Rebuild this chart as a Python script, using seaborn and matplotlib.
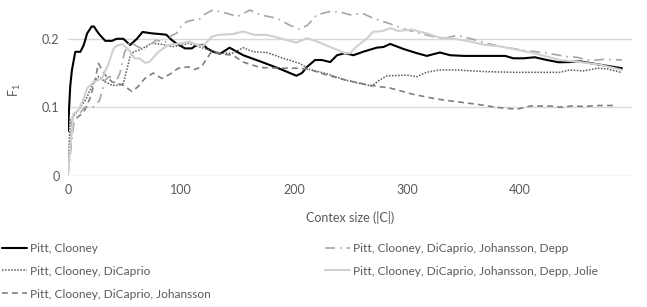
import pandas as pd
import seaborn as sns
import matplotlib.pyplot as plt

# series (context size -> F1)
clooney_x = [0, 2, 3.5, 6.5, 11, 14, 17, 21, 23, 27, 33, 39, 43, 49, 55, 61, 66, 74, 81, 87,
             92, 96, 103.5, 109.5, 114, 120, 123, 128.6, 134.5, 143, 155, 170, 187.6, 202, 207,
             211.5, 218.6, 224.5, 232, 238, 245, 252.5, 261, 273, 279, 285, 297, 308.6, 317.4,
             329, 338, 350, 369, 386.7, 394, 403, 413, 423.6, 434, 444, 453, 471, 490]
clooney_y = [0.065, 0.13, 0.154, 0.181, 0.181, 0.191, 0.208, 0.218, 0.218, 0.208, 0.197, 0.197,
             0.2, 0.2, 0.191, 0.2, 0.21, 0.208, 0.207, 0.206, 0.198, 0.193, 0.186, 0.186, 0.191,
             0.191, 0.186, 0.181, 0.178, 0.187, 0.176, 0.167, 0.156, 0.146, 0.150, 0.159, 0.169,
             0.169, 0.166, 0.176, 0.179, 0.176, 0.181, 0.187, 0.188, 0.1925, 0.185, 0.179, 0.175,
             0.180, 0.176, 0.175, 0.175, 0.175, 0.1715, 0.1715, 0.173, 0.169, 0.1657, 0.166,
             0.167, 0.162, 0.157]

dicaprio_x = [0, 2, 9.4, 16, 23, 27, 33, 39, 45, 49, 52, 55, 58, 64, 74, 83, 92, 99, 106.5, 115,
              124, 134.5, 146, 155, 164, 176, 190.5, 205, 214, 229, 245, 255, 268.6, 276, 282,
              299.5, 308.6, 317, 329, 344, 358.7, 369, 394, 435, 444, 456, 468, 477, 490]
dicaprio_y = [0, 0.081, 0.096, 0.112, 0.137, 0.145, 0.137, 0.132, 0.132, 0.135, 0.154, 0.174,
              0.181, 0.184, 0.1935, 0.192, 0.1886, 0.19, 0.1935, 0.189, 0.184, 0.179, 0.179,
              0.187, 0.181, 0.180, 0.1715, 0.164, 0.155, 0.149, 0.140, 0.136, 0.131, 0.14,
              0.1457, 0.147, 0.1447, 0.151, 0.1545, 0.1545, 0.153, 0.152, 0.151, 0.151, 0.1545,
              0.153, 0.157, 0.156, 0.1505]

johansson_x = [0, 3.5, 11, 15, 20, 24, 27, 30, 33, 39, 49, 56.6, 62, 68, 75.5, 83, 90, 97.6,
               106.5, 112, 118, 123, 127, 134.5, 146, 155, 170, 187.6, 205, 214, 229, 245, 267,
               285, 305, 326, 344, 363, 379, 397, 409, 426.5, 435, 447, 456, 468, 485.5]
johansson_y = [0, 0.079, 0.0886, 0.096, 0.115, 0.14, 0.164, 0.155, 0.147, 0.137, 0.132, 0.123,
               0.13, 0.142, 0.150, 0.142, 0.148, 0.157, 0.159, 0.155, 0.159, 0.1715, 0.181,
               0.178, 0.176, 0.166, 0.158, 0.157, 0.157, 0.155, 0.147, 0.140, 0.132, 0.128,
               0.119, 0.112, 0.108, 0.104, 0.0998, 0.097, 0.1017, 0.1017, 0.1, 0.102, 0.101,
               0.1025, 0.1025]

depp_x = [0, 5, 10, 15, 22, 28, 33, 37, 42, 46, 50, 55, 60, 66, 72, 78, 86, 92, 96, 100, 105,
          112, 116, 120, 128, 140, 150, 161, 170, 185, 196, 205, 212, 220, 232, 241, 250, 261,
          270, 285, 300, 316, 332, 344, 359, 369, 382, 400, 424, 441, 450, 462, 474, 490]
depp_y = [0, 0.075, 0.09, 0.1, 0.1, 0.11, 0.14, 0.145, 0.135, 0.15, 0.18, 0.196, 0.19, 0.185,
          0.19, 0.198, 0.195, 0.205, 0.208, 0.218, 0.225, 0.228, 0.228, 0.235, 0.242, 0.2375,
          0.2325, 0.242, 0.235, 0.23, 0.22, 0.214, 0.22, 0.235, 0.24, 0.239, 0.235, 0.237, 0.23,
          0.222, 0.213, 0.206, 0.2, 0.205, 0.199, 0.194, 0.189, 0.184, 0.179, 0.174, 0.173,
          0.168, 0.170, 0.169]

jolie_x = [0, 4.7, 9.4, 13.5, 17, 23, 30, 36, 40, 42, 48, 53.7, 59, 63.7, 68, 72, 80, 89, 100.6,
           108, 114, 120, 127, 133, 146, 155, 165.5, 176, 187.6, 202, 211.5, 220, 235, 245,
           249.6, 255.5, 264, 270, 277.6, 285, 292.3, 304, 317, 329, 344, 356, 369, 382, 412,
           435, 453, 471, 490]
jolie_y = [0, 0.09, 0.096, 0.1105, 0.128, 0.137, 0.142, 0.164, 0.184, 0.189, 0.1925, 0.184,
           0.1715, 0.171, 0.165, 0.166, 0.181, 0.191, 0.1935, 0.196, 0.191, 0.19, 0.203, 0.2057,
           0.207, 0.2105, 0.2057, 0.2057, 0.2009, 0.1944, 0.2009, 0.1962, 0.186, 0.179, 0.179,
           0.189, 0.2, 0.2105, 0.211, 0.2155, 0.2115, 0.2135, 0.208, 0.2017, 0.1994, 0.196,
           0.191, 0.189, 0.179, 0.169, 0.166, 0.162, 0.1545]

labels = ['Pitt, Clooney',
          'Pitt, Clooney, DiCaprio',
          'Pitt, Clooney, DiCaprio, Johansson',
          'Pitt, Clooney, DiCaprio, Johansson, Depp',
          'Pitt, Clooney, DiCaprio, Johansson, Depp, Jolie']
x_ticks = [0, 100, 200, 300, 400]
y_ticks = [0, 0.1, 0.2]

sns.set_theme(style='white')
plt.rcParams['font.family'] = ['Lato', 'DejaVu Sans']
plt.rcParams['mathtext.default'] = 'regular'

series = [
    (clooney_x, clooney_y, '#000000', 1.5, '-'),
    (dicaprio_x, dicaprio_y, '#595959', 1.1, (0, (1, 1))),
    (johansson_x, johansson_y, '#7f7f7f', 1.2, (0, (3.5, 2.5))),
    (depp_x, depp_y, '#a6a6a6', 1.2, (0, (6, 3, 1, 3))),
    (jolie_x, jolie_y, '#d0d0d0', 1.5, '-'),
]

fig = plt.figure(figsize=(6.47, 3.07), dpi=100)
ax = fig.add_axes([0.105, 0.428, 0.872, 0.557])

for (xs, ys, c, lw, ls), lab in zip(series, labels):
    df = pd.DataFrame({'x': xs, 'y': ys})
    sns.lineplot(data=df, x='x', y='y', ax=ax, color=c, lw=lw, linestyle=ls, label=lab)

if ax.get_legend():
    ax.get_legend().remove()

ax.set_xlim(0, 499)
ax.set_ylim(0, 0.25)
ax.set_xticks(x_ticks)
ax.set_yticks(y_ticks)
ax.set_yticklabels(['0', '0.1', '0.2'])
ax.tick_params(colors='#595959', labelsize=9, length=0, pad=6)
ax.yaxis.grid(True, color='#d9d9d9', lw=1)
ax.set_axisbelow(True)
for s in ax.spines.values():
    s.set_visible(False)

ax.set_xlabel('Contex size (|C|)', fontsize=9, color='#595959', labelpad=11)
ax.set_ylabel('F$_1$', fontsize=9, color='#595959', labelpad=14)

handles, labs = ax.get_legend_handles_labels()
fig.legend(handles, labs, loc='upper left', bbox_to_anchor=(-0.004, 0.225), ncol=2,
           frameon=False, fontsize=8.6, labelcolor='#595959', handlelength=2.1,
           handletextpad=0.2, columnspacing=9.6, labelspacing=1.0, borderaxespad=0)

fig.savefig('out.png', dpi=100)
